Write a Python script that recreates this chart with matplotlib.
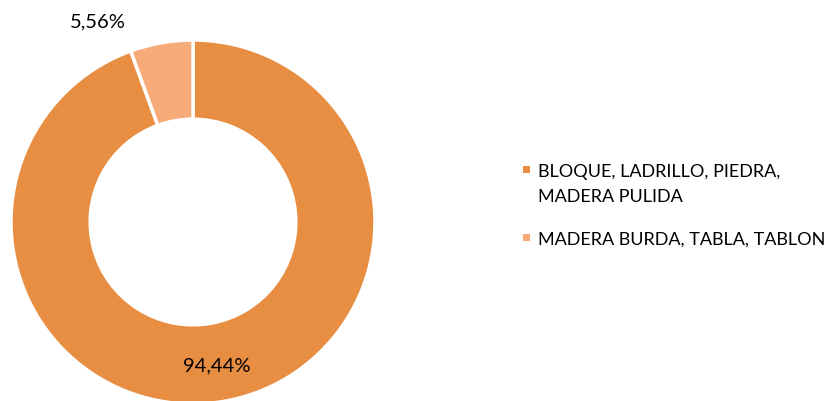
import matplotlib
matplotlib.use('Agg')
from matplotlib import pyplot as plt
from matplotlib.patches import Rectangle

categorias = ['BLOQUE, LADRILLO, PIEDRA,\nMADERA PULIDA', 'MADERA BURDA, TABLA, TABLON']
valores = [94.44, 5.56]
etiquetas = ['94,44%', '5,56%']
colores = ['#E88E42', '#F7AB78']

plt.rcParams['font.family'] = ['Lato', 'DejaVu Sans']

W, H = 830, 401
fig = plt.figure(figsize=(8.3, 4.01), dpi=100)
ax = fig.add_axes([11 / W, -3 / H, 364 / W, 364 / H])
wedges, _ = ax.pie(valores, colors=colores, startangle=90, counterclock=False,
                   radius=1, wedgeprops=dict(width=0.435, edgecolor='white', linewidth=2.5))
ax.set_xlim(-1, 1)
ax.set_ylim(-1, 1)
ax.set_aspect('equal')
ax.axis('off')

ax.text(-0.522, 1.099, etiquetas[1], ha='center', va='center', fontsize=14.5, color='#000000')
ax.text(0.132, -0.791, etiquetas[0], ha='center', va='center', fontsize=14.5, color='#000000')

# leyenda a mano: cuadrado alineado con la primera linea del texto
base_y = [177, 245]
for cat, col, yb in zip(categorias, colores, base_y):
    fig.patches.append(Rectangle((523 / W, 1 - (yb - 4) / H), 7 / W, 7 / H,
                                 transform=fig.transFigure, facecolor=col, edgecolor='none'))
    for i, linea in enumerate(cat.split('\n')):
        fig.text(538 / W, 1 - (yb + 25 * i) / H, linea, ha='left', va='baseline',
                 fontsize=13, color='#000000')

fig.savefig('out.png', dpi=100)
